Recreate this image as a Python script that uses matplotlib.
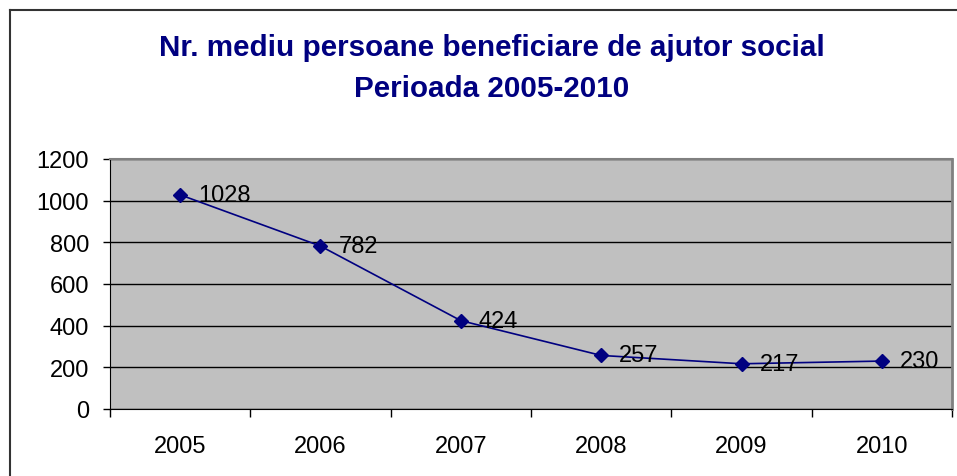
import matplotlib
matplotlib.use("Agg")
import matplotlib.pyplot as plt
from matplotlib.lines import Line2D

# date: numar mediu de persoane beneficiare de ajutor social
ani = ["2005", "2006", "2007", "2008", "2009", "2010"]
persoane = [1028, 782, 424, 257, 217, 230]
y_ticks = [0, 200, 400, 600, 800, 1000, 1200]

plt.rcParams['font.family'] = ['Liberation Sans', 'DejaVu Sans']

fig = plt.figure(figsize=(9.57, 4.77), dpi=100)
ax = fig.add_axes([0.1149, 0.1405, 0.880, 0.5241])
ax.set_facecolor('#C0C0C0')

x = list(range(len(ani)))
ax.plot(x, persoane, color='#000080', linewidth=1.2, marker='D', markersize=7.5,
        markerfacecolor='#000080', markeredgecolor='#000080', zorder=3)
for xi, v in zip(x, persoane):
    ax.annotate(str(v), (xi, v), xytext=(13, 0), textcoords='offset points',
                ha='left', va='center', fontsize=17, color='black', zorder=4)

ax.set_xlim(-0.5, len(ani) - 0.5)
ax.set_ylim(0, 1200)
ax.set_yticks(y_ticks)
ax.set_yticklabels([str(t) for t in y_ticks], fontsize=17)
ax.yaxis.grid(True, color='black', linewidth=1)
ax.set_axisbelow(True)

# etichetele anilor in centrul categoriilor, tick-urile intre categorii
ax.set_xticks(x)
ax.set_xticklabels(ani, fontsize=17)
ax.set_xticks([i - 0.5 for i in range(len(ani) + 1)], minor=True)
ax.tick_params(axis='x', which='major', length=0, pad=19)
ax.tick_params(axis='x', which='minor', length=6, width=1, direction='out')
ax.tick_params(axis='y', length=5, width=1, direction='out', pad=10)

ax.spines['left'].set_color('black')
ax.spines['bottom'].set_color('black')
ax.spines['top'].set_color('#808080')
ax.spines['right'].set_color('#808080')
ax.spines['top'].set_linewidth(1.5)
ax.spines['right'].set_linewidth(2)

fig.text(0.5136, 0.8826, "Nr. mediu persoane beneficiare de ajutor social",
         ha='center', va='baseline', fontsize=21.3, fontweight='bold', color='#000080')
fig.text(0.5136, 0.7966, "Perioada 2005-2010",
         ha='center', va='baseline', fontsize=21.3, fontweight='bold', color='#000080')

# chenarul graficului
fig.add_artist(Line2D([10 / 957, 10 / 957], [0, 1 - 11 / 477],
                      transform=fig.transFigure, color='#333333', linewidth=1.5))
fig.add_artist(Line2D([10 / 957, 1], [1 - 11 / 477, 1 - 11 / 477],
                      transform=fig.transFigure, color='#333333', linewidth=1.5))

fig.savefig("out.png", dpi=100)
